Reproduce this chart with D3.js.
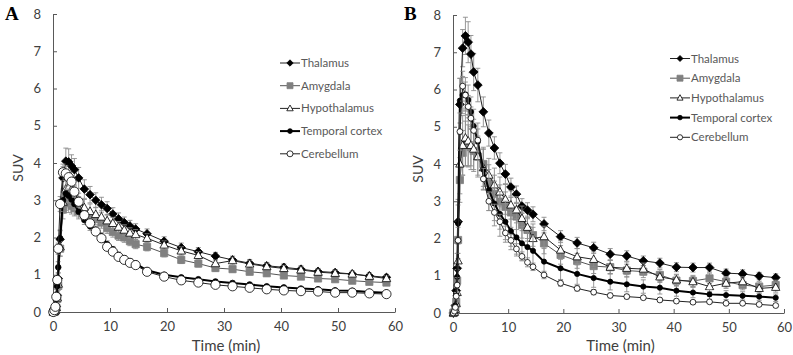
<!DOCTYPE html>
<html>
<head>
<meta charset="utf-8">
<script src="https://cdn.jsdelivr.net/npm/d3@7"></script>
<style>
  html, body { margin: 0; padding: 0; background: #fff; }
  svg text { font-family: Lato, "Open Sans", sans-serif; }
</style>
</head>
<body>
<svg id="chart" width="793" height="355"></svg>
<script>
// frame mid-times (min), shared by both panels
const times = [0.05, 0.25, 0.42, 0.58, 0.75, 0.92, 1.25, 1.75, 2.25, 2.75, 3.25, 3.75, 4.5, 5.5, 6.5,
  7.5, 8.5, 9.5, 10.5, 11.5, 12.5, 13.5, 14.5, 16.5, 19.5, 22.5, 25.5, 28.5, 31.5, 34.5, 37.5,
  40.5, 43.5, 46.5, 49.5, 52.5, 55.5, 58.5];

const regions = ["Thalamus", "Amygdala", "Hypothalamus", "Temporal cortex", "Cerebellum"];
const xTicks = [0, 10, 20, 30, 40, 50, 60];
const yTicks = [0, 1, 2, 3, 4, 5, 6, 7, 8];

// panel A - mean SUV
const thalamusA = [0, 0.01, 0.05, 0.15, 0.45, 0.9, 1.95, 3.6, 4.05, 4.03, 3.92, 3.82, 3.6, 3.3, 3.15, 3.0, 2.88, 2.78, 2.63, 2.5, 2.4, 2.31, 2.23, 2.1, 1.9, 1.73, 1.62, 1.5, 1.4, 1.31, 1.24, 1.2, 1.15, 1.09, 1.06, 1.02, 0.97, 0.93];
const amygdalaA = [0, 0.01, 0.04, 0.12, 0.35, 0.7, 1.7, 2.75, 2.98, 2.92, 2.85, 2.78, 2.7, 2.6, 2.55, 2.5, 2.4, 2.25, 2.15, 2.05, 2.0, 1.9, 1.82, 1.75, 1.58, 1.4, 1.3, 1.18, 1.15, 1.08, 1.04, 0.98, 0.95, 0.9, 0.88, 0.84, 0.81, 0.79];
const hypothalamusA = [0, 0.01, 0.04, 0.12, 0.38, 0.75, 1.75, 2.95, 3.3, 3.35, 3.28, 3.15, 2.95, 2.8, 2.7, 2.62, 2.55, 2.45, 2.38, 2.28, 2.2, 2.12, 2.08, 1.98, 1.8, 1.64, 1.52, 1.3, 1.38, 1.29, 1.22, 1.17, 1.13, 1.07, 1.04, 1.02, 0.96, 0.9];
const temporalA = [0, 0.03, 0.14, 0.4, 0.7, 1.2, 1.98, 3.0, 3.18, 3.12, 3.02, 2.9, 2.69, 2.47, 2.3, 2.2, 2.03, 1.82, 1.68, 1.53, 1.44, 1.36, 1.3, 1.12, 1.0, 0.93, 0.88, 0.82, 0.78, 0.74, 0.69, 0.66, 0.63, 0.61, 0.58, 0.57, 0.54, 0.52];
const cerebellumA = [0, 0.05, 0.14, 0.41, 0.86, 1.7, 2.9, 3.75, 3.72, 3.62, 3.5, 3.23, 2.96, 2.6, 2.38, 2.16, 1.98, 1.75, 1.62, 1.48, 1.4, 1.32, 1.26, 1.08, 0.95, 0.85, 0.79, 0.73, 0.69, 0.65, 0.61, 0.58, 0.56, 0.55, 0.52, 0.52, 0.5, 0.48];

// panel A - SD
const thalamusErrA = [0, 0, 0.02, 0.05, 0.1, 0.15, 0.25, 0.3, 0.35, 0.35, 0.3, 0.3, 0.28, 0.25, 0.22, 0.2, 0.2, 0.18, 0.17, 0.16, 0.15, 0.15, 0.14, 0.13, 0.12, 0.12, 0.11, 0.1, 0.1, 0.1, 0.09, 0.09, 0.09, 0.08, 0.08, 0.08, 0.08, 0.08];
const amygdalaErrA = [0, 0, 0.02, 0.04, 0.08, 0.12, 0.2, 0.25, 0.25, 0.25, 0.22, 0.2, 0.2, 0.18, 0.17, 0.16, 0.15, 0.14, 0.14, 0.13, 0.13, 0.12, 0.12, 0.11, 0.1, 0.1, 0.09, 0.09, 0.08, 0.08, 0.08, 0.07, 0.07, 0.07, 0.07, 0.06, 0.06, 0.06];
const hypothalamusErrA = [0, 0, 0.02, 0.05, 0.1, 0.15, 0.25, 0.3, 0.3, 0.3, 0.28, 0.26, 0.24, 0.22, 0.2, 0.19, 0.18, 0.17, 0.16, 0.15, 0.14, 0.14, 0.13, 0.12, 0.11, 0.11, 0.1, 0.1, 0.09, 0.09, 0.09, 0.08, 0.08, 0.08, 0.08, 0.07, 0.07, 0.07];
const temporalErrA = [0, 0, 0.02, 0.05, 0.1, 0.15, 0.2, 0.22, 0.2, 0.18, 0.16, 0.15, 0.14, 0.12, 0.11, 0.1, 0.1, 0.09, 0.08, 0.08, 0.07, 0.07, 0.07, 0.06, 0.06, 0.05, 0.05, 0.05, 0.05, 0.04, 0.04, 0.04, 0.04, 0.04, 0.04, 0.04, 0.04, 0.04];
const cerebellumErrA = [0, 0, 0.02, 0.05, 0.1, 0.15, 0.2, 0.22, 0.2, 0.18, 0.16, 0.15, 0.14, 0.12, 0.11, 0.1, 0.1, 0.09, 0.08, 0.08, 0.07, 0.07, 0.07, 0.06, 0.06, 0.05, 0.05, 0.05, 0.05, 0.04, 0.04, 0.04, 0.04, 0.04, 0.04, 0.04, 0.04, 0.04];

// panel B - mean SUV
const thalamusB = [0, 0.05, 0.2, 0.6, 1.2, 2.45, 5.6, 7.11, 7.44, 7.27, 6.95, 6.47, 6.12, 5.4, 4.83, 4.43, 4.02, 3.73, 3.38, 3.19, 2.87, 2.76, 2.65, 2.39, 2.05, 1.88, 1.75, 1.58, 1.53, 1.4, 1.34, 1.23, 1.22, 1.22, 1.07, 1.05, 0.99, 0.95];
const amygdalaB = [0, 0.02, 0.1, 0.3, 0.87, 1.96, 3.57, 4.3, 4.55, 4.5, 4.45, 4.35, 4.2, 4.0, 3.48, 3.2, 2.99, 2.85, 2.7, 2.59, 2.36, 2.23, 2.09, 1.87, 1.56, 1.4, 1.26, 1.23, 1.14, 1.11, 1.02, 0.87, 0.86, 0.93, 0.84, 0.75, 0.71, 0.75];
const hypothalamusB = [0, 0.02, 0.1, 0.25, 0.55, 1.4, 4.0, 4.5, 4.7, 4.62, 4.5, 4.4, 4.2, 3.9, 3.7, 3.44, 3.25, 3.05, 2.9, 2.77, 2.54, 2.3, 2.0, 2.05, 1.69, 1.51, 1.44, 1.23, 1.2, 1.18, 0.97, 0.89, 0.84, 0.71, 0.8, 0.84, 0.66, 0.69];
const temporalB = [0, 0.05, 0.2, 0.5, 0.97, 2.4, 5.7, 5.85, 5.87, 5.72, 5.4, 5.02, 4.6, 3.85, 3.3, 2.94, 2.66, 2.45, 2.2, 2.03, 1.87, 1.77, 1.67, 1.38, 1.2, 1.05, 0.94, 0.84, 0.77, 0.71, 0.68, 0.6, 0.55, 0.5, 0.48, 0.46, 0.44, 0.41];
const cerebellumB = [0, 0.05, 0.15, 0.45, 0.75, 1.95, 4.87, 6.09, 5.85, 5.54, 5.23, 4.9, 4.64, 3.6, 3.0, 2.7, 2.45, 2.15, 1.95, 1.72, 1.52, 1.36, 1.24, 1.02, 0.8, 0.66, 0.56, 0.47, 0.44, 0.41, 0.35, 0.32, 0.29, 0.3, 0.26, 0.26, 0.23, 0.2];

// panel B - SD
const thalamusErrB = [0, 0.02, 0.1, 0.2, 0.4, 0.6, 0.7, 0.5, 0.5, 0.55, 0.5, 0.5, 0.45, 0.4, 0.35, 0.3, 0.28, 0.26, 0.24, 0.22, 0.2, 0.2, 0.2, 0.18, 0.16, 0.15, 0.15, 0.15, 0.14, 0.13, 0.13, 0.12, 0.12, 0.12, 0.11, 0.11, 0.1, 0.1];
const amygdalaErrB = [0, 0.02, 0.1, 0.2, 0.3, 0.5, 0.6, 0.6, 0.6, 0.55, 0.5, 0.5, 0.5, 0.45, 0.5, 0.5, 0.45, 0.4, 0.4, 0.35, 0.35, 0.3, 0.3, 0.28, 0.25, 0.2, 0.2, 0.18, 0.17, 0.16, 0.15, 0.15, 0.15, 0.14, 0.14, 0.13, 0.13, 0.13];
const hypothalamusErrB = [0, 0.02, 0.1, 0.2, 0.35, 0.6, 0.8, 0.8, 0.75, 0.7, 0.65, 0.6, 0.55, 0.5, 0.45, 0.45, 0.4, 0.4, 0.38, 0.35, 0.33, 0.3, 0.3, 0.28, 0.25, 0.22, 0.2, 0.18, 0.17, 0.16, 0.15, 0.15, 0.14, 0.14, 0.14, 0.13, 0.13, 0.13];
const temporalErrB = [0, 0.02, 0.1, 0.2, 0.3, 0.5, 0.6, 0.5, 0.45, 0.4, 0.4, 0.45, 0.5, 0.55, 0.55, 0.6, 0.6, 0.55, 0.5, 0.5, 0.45, 0.4, 0.4, 0.35, 0.3, 0.28, 0.25, 0.22, 0.2, 0.18, 0.17, 0.15, 0.14, 0.13, 0.12, 0.11, 0.1, 0.1];
const cerebellumErrB = [0, 0.02, 0.05, 0.1, 0.2, 0.35, 0.5, 0.4, 0.35, 0.3, 0.3, 0.3, 0.3, 0.28, 0.25, 0.22, 0.2, 0.18, 0.16, 0.14, 0.12, 0.12, 0.1, 0.1, 0.08, 0.07, 0.07, 0.06, 0.06, 0.05, 0.05, 0.05, 0.05, 0.04, 0.04, 0.04, 0.04, 0.04];

// marker + line look for each region
const styles = [
  { shape: "diamond", fill: "#000", stroke: "#000", lineColor: "#222", lineWidth: 1 },
  { shape: "square", fill: "#808080", stroke: "#808080", lineColor: "#555", lineWidth: 1 },
  { shape: "triangle", fill: "#fff", stroke: "#000", lineColor: "#222", lineWidth: 1 },
  { shape: "circle", fill: "#000", stroke: "#000", lineColor: "#000", lineWidth: 2 },
  { shape: "circle", fill: "#fff", stroke: "#000", lineColor: "#222", lineWidth: 1 }
];

function markerPath(shape, r) {
  if (shape === "diamond") return `M0,${-r}L${r},0L0,${r}L${-r},0Z`;
  if (shape === "square") return `M${-r},${-r}H${r}V${r}H${-r}Z`;
  if (shape === "triangle") return `M0,${-r}L${r * 0.95},${r * 0.7}L${-r * 0.95},${r * 0.7}Z`;
  return `M${r},0A${r},${r} 0 1,1 ${-r},0A${r},${r} 0 1,1 ${r},0Z`;
}

const svg = d3.select("#chart");

function drawPanel(p) {
  const x = d3.scaleLinear().domain([0, 60]).range([p.left, p.right]);
  const y = d3.scaleLinear().domain([0, 8]).range([p.bottom, p.top]);
  const g = svg.append("g");

  // axes (ticks point inward)
  g.append("g")
    .attr("transform", `translate(0,${p.bottom})`)
    .call(d3.axisBottom(x).tickValues(xTicks).tickSize(-4).tickPadding(10).tickSizeOuter(0))
    .call(a => a.select(".domain").attr("stroke", "#595959"))
    .call(a => a.selectAll(".tick line").attr("stroke", "#595959"))
    .call(a => a.selectAll("text").attr("font-size", 13).attr("fill", "#404040"));

  g.append("g")
    .attr("transform", `translate(${p.left},0)`)
    .call(d3.axisLeft(y).tickValues(yTicks).tickSize(-4).tickPadding(12).tickSizeOuter(0))
    .call(a => a.select(".domain").attr("stroke", "#595959"))
    .call(a => a.selectAll(".tick line").attr("stroke", "#595959"))
    .call(a => a.selectAll("text").attr("font-size", 13).attr("fill", "#404040"));

  g.append("text")
    .attr("x", (p.left + p.right) / 2 + 2)
    .attr("y", 351)
    .attr("text-anchor", "middle")
    .attr("font-size", 15)
    .attr("fill", "#404040")
    .text("Time (min)");

  g.append("text")
    .attr("transform", `translate(${p.left - 30},${(p.top + p.bottom) / 2 + 5}) rotate(-90)`)
    .attr("text-anchor", "middle")
    .attr("font-size", 14)
    .attr("fill", "#404040")
    .text("SUV");

  g.append("text")
    .attr("x", p.letterX)
    .attr("y", 20)
    .style("font-family", "'Liberation Serif', 'DejaVu Serif', serif")
    .attr("font-weight", "bold")
    .attr("font-size", 19)
    .attr("fill", "#000")
    .text(p.letter);

  const line = d3.line().x(d => x(d.t)).y(d => y(d.v));

  p.series.forEach((s, i) => {
    const st = styles[i];
    const pts = times.map((t, k) => ({ t, v: s.values[k], e: s.errors[k] }));
    const sg = g.append("g");

    // error bars
    pts.filter(d => d.e > 0).forEach(d => {
      const cx = x(d.t);
      sg.append("line").attr("x1", cx).attr("x2", cx)
        .attr("y1", y(d.v - d.e)).attr("y2", y(d.v + d.e))
        .attr("stroke", "#8c8c8c").attr("stroke-width", 0.9);
      [d.v - d.e, d.v + d.e].forEach(v => {
        sg.append("line").attr("x1", cx - 2.5).attr("x2", cx + 2.5)
          .attr("y1", y(v)).attr("y2", y(v))
          .attr("stroke", "#8c8c8c").attr("stroke-width", 0.9);
      });
    });

    sg.append("path")
      .attr("d", line(pts))
      .attr("fill", "none")
      .attr("stroke", st.lineColor)
      .attr("stroke-width", st.lineWidth);

    sg.selectAll(".m")
      .data(pts)
      .join("path")
      .attr("transform", d => `translate(${x(d.t)},${y(d.v)})`)
      .attr("d", markerPath(st.shape, p.sizes[i]))
      .attr("fill", st.fill)
      .attr("stroke", st.stroke)
      .attr("stroke-width", 0.8);
  });

  // legend
  const lg = g.append("g");
  regions.forEach((name, i) => {
    const st = styles[i];
    const ly = p.legend.y + i * p.legend.step;
    lg.append("line")
      .attr("x1", p.legend.x).attr("x2", p.legend.x + 20)
      .attr("y1", ly).attr("y2", ly)
      .attr("stroke", st.lineColor).attr("stroke-width", st.lineWidth);
    lg.append("path")
      .attr("transform", `translate(${p.legend.x + 10},${ly})`)
      .attr("d", markerPath(st.shape, p.legend.sizes[i]))
      .attr("fill", st.fill).attr("stroke", st.stroke).attr("stroke-width", 0.8);
    lg.append("text")
      .attr("x", p.legend.x + 21)
      .attr("y", ly)
      .attr("dy", "0.35em")
      .attr("font-size", 11.5)
      .attr("fill", "#595959")
      .text(name);
  });
}

drawPanel({
  letter: "A", letterX: 5,
  left: 53, right: 395, top: 14, bottom: 312,
  sizes: [4.3, 3.6, 4.5, 2.8, 4.6],
  series: [
    { values: thalamusA, errors: thalamusErrA },
    { values: amygdalaA, errors: amygdalaErrA },
    { values: hypothalamusA, errors: hypothalamusErrA },
    { values: temporalA, errors: temporalErrA },
    { values: cerebellumA, errors: cerebellumErrA }
  ],
  legend: { x: 280, y: 63, step: 22.7, sizes: [3.2, 3, 3.4, 2.4, 3] }
});

drawPanel({
  letter: "B", letterX: 404,
  left: 453, right: 784, top: 15, bottom: 313,
  sizes: [4.4, 3.6, 4.4, 2.6, 2.9],
  series: [
    { values: thalamusB, errors: thalamusErrB },
    { values: amygdalaB, errors: amygdalaErrB },
    { values: hypothalamusB, errors: hypothalamusErrB },
    { values: temporalB, errors: temporalErrB },
    { values: cerebellumB, errors: cerebellumErrB }
  ],
  legend: { x: 670, y: 58.5, step: 19.7, sizes: [3, 3, 3.2, 2.3, 2.6] }
});
</script>
</body>
</html>
